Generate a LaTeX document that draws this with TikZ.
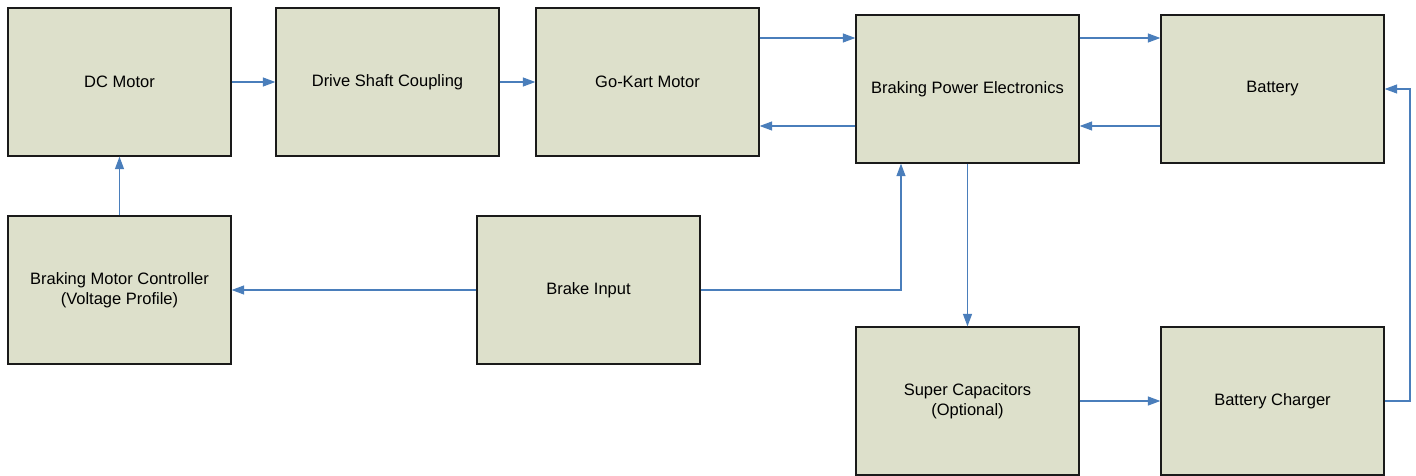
\documentclass[tikz,border=0pt]{standalone}
\usepackage{fontspec}
\setmainfont{Liberation Sans}
\usetikzlibrary{arrows.meta}
\definecolor{boxfill}{HTML}{DDE0CB}
\definecolor{arrowblue}{HTML}{4A7EBB}
\definecolor{boxline}{HTML}{1A1A1A}
\begin{document}
\begin{tikzpicture}[x=1pt,y=-1pt,
  blk/.style={draw=boxline,line width=1.3pt,fill=boxfill,minimum width=223pt,minimum height=148pt,
    inner sep=0pt,align=center,font=\fontsize{16.5pt}{20pt}\selectfont},
  arr/.style={draw=arrowblue,line width=1.2pt,-{Triangle[length=12.5pt,width=9pt]}}]
\useasboundingbox (0,0) rectangle (1416,475);
\fill[white] (0,0) rectangle (1416,475);
\node[blk] (dc) at (119.5,82) {DC Motor};
\node[blk] (dsc) at (387.5,82) {Drive Shaft Coupling};
\node[blk] (gkm) at (647.5,82) {Go-Kart Motor};
\node[blk] (bpe) at (967.5,89) {Braking Power Electronics};
\node[blk] (bat) at (1272.5,89) {Battery};
\node[blk] (bmc) at (119.5,290) {Braking Motor Controller\\(Voltage Profile)};
\node[blk] (bi) at (588.5,290) {Brake Input};
\node[blk] (sc) at (967.5,401) {Super Capacitors\\(Optional)};
\node[blk] (bc) at (1272.5,401) {Battery Charger};
\coordinate (ret) at (1410,401);
\draw[arr] (dc.east) -- (dsc.west);
\draw[arr] (dsc.east) -- (gkm.west);
\draw[arr] (gkm.east |- 0,38) -- (bpe.west |- 0,38);
\draw[arr] (bpe.west |- 0,126) -- (gkm.east |- 0,126);
\draw[arr] (bpe.east |- 0,38) -- (bat.west |- 0,38);
\draw[arr] (bat.west |- 0,126) -- (bpe.east |- 0,126);
\draw[arr] (bmc.north) -- (dc.south);
\draw[arr] (bi.west) -- (bmc.east);
\draw[arr] (bi.east) -| ([xshift=-66.5pt]bpe.south);
\draw[arr] (bpe.south) -- (sc.north);
\draw[arr] (sc.east) -- (bc.west);
\draw[arr] (bc.east) -- (ret) |- (bat.east);
\end{tikzpicture}
\end{document}
